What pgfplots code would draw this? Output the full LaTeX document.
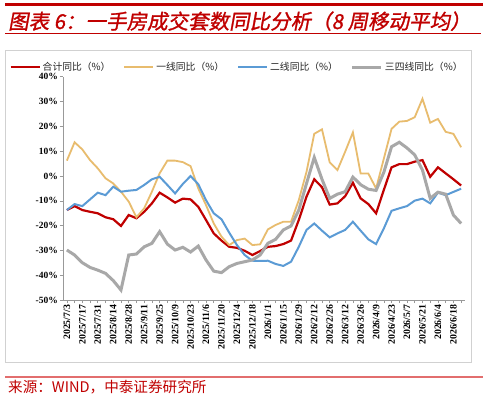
\documentclass[border=0pt]{standalone}
\usepackage{pgfplots}
\pgfplotsset{compat=1.18}
\usepackage{fontspec}
\setmainfont{Liberation Serif}
\newfontfamily\cjk{Noto Sans CJK SC}
\newfontfamily\cjktitle[FakeSlant=0.18,FakeBold=1.2]{Noto Sans CJK SC}
\definecolor{cred}{RGB}{192,0,0}
\definecolor{cyel}{RGB}{232,188,110}
\definecolor{cblue}{RGB}{91,155,213}
\definecolor{cgray}{RGB}{168,168,168}
\definecolor{lred}{RGB}{226,110,110}
\pgfplotstableread{
i red yel blue gray
0 -13.7 6.2 -13.7 -29.8
1 -12.1 13.6 -11.3 -31.8
2 -13.7 10.7 -12.1 -34.9
3 -14.4 6.4 -9.4 -36.8
4 -15.0 3.1 -6.7 -37.9
5 -16.6 -0.9 -7.7 -39.2
6 -17.4 -3.0 -4.3 -42.1
7 -20.1 -6.3 -6.3 -45.9
8 -15.7 -10.3 -5.9 -31.8
9 -17.0 -16.6 -5.6 -31.4
10 -14.4 -13.0 -3.6 -28.5
11 -11.0 -6.3 -1.3 -27.1
12 -6.7 1.1 -0.3 -22.4
13 -8.6 6.2 -3.6 -27.4
14 -10.7 6.2 -7.0 -29.8
15 -9.1 5.6 -3.2 -28.7
16 -9.4 4.0 0.0 -30.6
17 -12.4 -5.0 -3.3 -28.2
18 -17.7 -11.7 -9.7 -33.8
19 -23.1 -19.1 -15.0 -38.3
20 -26.0 -24.4 -17.4 -38.9
21 -28.5 -27.8 -22.8 -36.5
22 -28.9 -25.8 -27.8 -35.2
23 -30.1 -25.2 -31.8 -34.5
24 -31.8 -27.8 -34.1 -33.8
25 -30.2 -27.5 -34.2 -31.8
26 -28.5 -21.5 -34.1 -27.1
27 -28.2 -19.7 -35.4 -25.5
28 -27.4 -18.4 -36.2 -21.7
29 -26.0 -18.4 -34.5 -20.1
30 -17.7 -9.7 -28.5 -13.7
31 -8.3 1.7 -21.7 -3.0
32 -1.3 17.0 -19.1 7.5
33 -4.5 18.8 -22.0 -1.3
34 -11.5 5.5 -24.7 -9.0
35 -11.0 2.4 -23.1 -7.3
36 -8.1 9.8 -21.7 -6.3
37 -2.7 17.6 -18.4 -0.4
38 -9.0 1.0 -22.0 -3.5
39 -11.3 1.0 -25.5 -5.3
40 -15.0 -5.0 -27.4 -5.8
41 -5.6 7.0 -21.1 1.5
42 3.5 19.0 -14.0 11.8
43 4.8 21.9 -13.0 13.6
44 4.8 22.2 -12.1 11.3
45 5.8 23.7 -9.9 8.5
46 6.4 31.1 -9.1 2.4
47 -0.3 21.5 -11.0 -9.0
48 3.5 23.0 -6.7 -6.5
49 1.1 17.8 -7.7 -7.3
50 -1.3 17.0 -6.4 -15.7
51 -3.8 11.6 -5.1 -19.1
}\datatable
\begin{document}
\begin{tikzpicture}[x=1pt,y=1pt]
\useasboundingbox (0,0) rectangle (488,400);
\fill[white] (0,0) rectangle (488,400);
\draw[cred, line width=3] (5,395) -- (483,395);
\node[anchor=base west, inner sep=0pt, text=cred, font=\cjktitle\fontsize{20.5}{21}\selectfont] at (8,371) {图表 6：一手房成交套数同比分析（8 周移动平均）};
\draw[cred, line width=1] (5,366) -- (481,366);
\draw[black!18, line width=0.8] (5,38) rectangle (471,350);
\draw[lred, line width=2] (5,23) -- (483,23);
\node[anchor=base west, inner sep=0pt, text=cred, font=\cjk\fontsize{14.6}{15}\selectfont] at (8,8) {来源：WIND，中泰证券研究所};
\begin{axis}[
  at={(63pt,99.8pt)}, anchor=south west,
  scale only axis, width=402pt, height=223.5pt,
  xmin=-0.5, xmax=51.5, ymin=-50, ymax=40,
  axis lines*=left,
  axis line style={draw=black!40, line width=0.8pt},
  tick style={draw=black!40, line width=0.6pt},
  tick align=outside, major tick length=3pt, minor tick length=3pt,
  xtick={0,2,...,50},
  minor xtick={1,3,...,51},
  xticklabels={2025/7/3,2025/7/17,2025/7/31,2025/8/14,2025/8/28,2025/9/11,2025/9/25,2025/10/9,2025/10/23,2025/11/6,2025/11/20,2025/12/4,2025/12/18,2026/1/1,2026/1/15,2026/1/29,2026/2/12,2026/2/26,2026/3/12,2026/3/26,2026/4/9,2026/4/23,2026/5/7,2026/5/21,2026/6/4,2026/6/18},
  xticklabel style={rotate=90, anchor=east, inner sep=1.5pt, font=\bfseries\fontsize{9.8}{10}\selectfont},
  ytick={-50,-40,...,40},
  yticklabels={-50\%,-40\%,-30\%,-20\%,-10\%,0\%,10\%,20\%,30\%,40\%},
  yticklabel style={font=\bfseries\fontsize{9.5}{10}\selectfont, inner sep=2pt},
  legend columns=4,
  legend style={draw=none, fill=none, at={(0.433,1.043)}, anchor=center,
    font=\cjk\fontsize{9.8}{10}\selectfont, text=black!85,
    /tikz/every even column/.append style={column sep=11pt},
    inner sep=0pt},
  legend image code/.code={\draw[#1] (0pt,0pt) -- (29pt,0pt);},
  clip=false,
]
\addplot[cred, line width=2.2pt] table[x=i,y=red]{\datatable};
\addlegendentry{合计同比（\%）}
\addplot[cyel, line width=1.8pt] table[x=i,y=yel]{\datatable};
\addlegendentry{一线同比（\%）}
\addplot[cblue, line width=2pt] table[x=i,y=blue]{\datatable};
\addlegendentry{二线同比（\%）}
\addplot[cgray, line width=3pt] table[x=i,y=gray]{\datatable};
\addlegendentry{三四线同比（\%）}
\end{axis}
\end{tikzpicture}
\end{document}
